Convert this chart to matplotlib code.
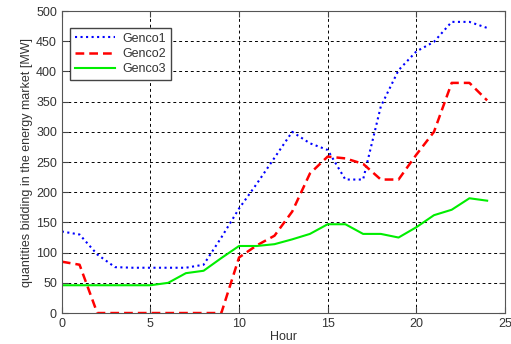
import numpy as np
import matplotlib
matplotlib.use('Agg')
import matplotlib.pyplot as plt

hours = list(range(25))
genco1 = [135, 130, 97, 76, 75, 75, 75, 75, 80, 125, 173, 214, 257, 300, 281,
          270, 221, 221, 342, 402, 433, 449, 482, 482, 472]
genco2 = [85, 80, 0, 0, 0, 0, 0, 0, 0, 0, 92, 112, 128, 168, 231,
          259, 256, 247, 221, 221, 262, 300, 381, 381, 352]
genco3 = [46, 46, 46, 46, 46, 46, 50, 66, 70, 91, 111, 111, 114, 122, 131,
          147, 147, 131, 131, 125, 142, 162, 171, 190, 186]

plt.rcParams['font.family'] = ['Liberation Sans', 'DejaVu Sans']
plt.rcParams['font.size'] = 9

def draw():
    fig = plt.figure(figsize=(5.11, 3.44), dpi=100)
    ax = fig.add_axes([0.121, 0.090, 0.867, 0.878])

    ax.plot(hours, genco1, color='#0000ff', linestyle=':', linewidth=1.5, label='Genco1')
    ax.plot(hours, genco2, color='#ff0000', linestyle='--', linewidth=1.8, dashes=(3.5, 2), label='Genco2')
    ax.plot(hours, genco3, color='#00ee00', linestyle='-', linewidth=1.5, label='Genco3')

    ax.set_xlim(0, 25)
    ax.set_ylim(0, 500)
    ax.set_xticks(range(0, 26, 5))
    ax.set_yticks(range(0, 501, 50))
    ax.grid(True, color='black', linestyle=(0, (3, 3)), linewidth=0.7)
    ax.tick_params(direction='in', top=True, right=True, length=4, color='#444444',
                   labelcolor='#333333')
    for s in ax.spines.values():
        s.set_color('#555555')

    ax.set_xlabel('Hour', labelpad=1, color='#333333')
    ax.set_ylabel('quantities bidding in the energy market [MW]', labelpad=2, color='#333333')

    leg = ax.legend(loc='upper left', bbox_to_anchor=(0.004, 0.965), fancybox=False,
                    framealpha=1, edgecolor='#444444', handlelength=3.2,
                    borderpad=0.4, labelspacing=0.25, handletextpad=0.6)
    leg.get_frame().set_linewidth(1.0)
    for t in leg.get_texts():
        t.set_color('#333333')

    fig.savefig('out.png', dpi=100)

def main():
    draw()

if __name__ == '__main__':
    main()
